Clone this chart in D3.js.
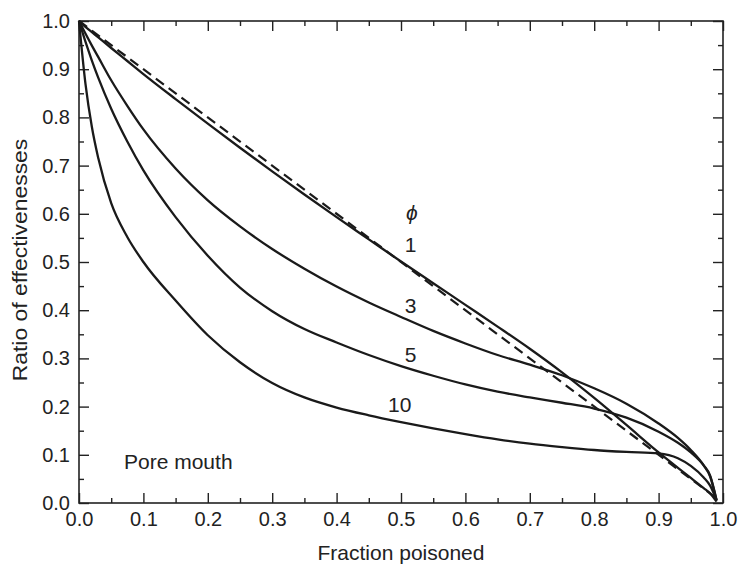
<!DOCTYPE html>
<html>
<head>
<meta charset="utf-8">
<script src="https://cdn.jsdelivr.net/npm/d3@7"></script>
<style>
  body { margin: 0; background: #fff; }
  svg { font-family: "Liberation Sans", Arial, sans-serif; }
  .axis text { font-size: 20px; fill: #222; }
  .axis line { stroke: #222; stroke-width: 1.4; }
  .axis path { display: none; }
</style>
</head>
<body>
<div id="chart"></div>
<script>
// fraction poisoned (shared x samples)
const xs = [0, 0.01, 0.02, 0.03, 0.05, 0.075, 0.1, 0.15, 0.2, 0.25, 0.3, 0.35, 0.4, 0.45,
  0.5, 0.55, 0.6, 0.65, 0.7, 0.75, 0.8, 0.85, 0.9, 0.93, 0.95, 0.97, 0.98, 0.99];

// ratio of effectivenesses, one list per Thiele modulus
const phi1 = [1, 0.988, 0.977, 0.966, 0.944, 0.917, 0.89, 0.838, 0.787, 0.737, 0.688, 0.64, 0.593, 0.547,
  0.501, 0.456, 0.411, 0.366, 0.32, 0.271, 0.218, 0.162, 0.105, 0.073, 0.052, 0.031, 0.02, 0.003];
const phi3 = [1, 0.974, 0.949, 0.925, 0.877, 0.824, 0.775, 0.694, 0.628, 0.574, 0.527, 0.486, 0.449, 0.416,
  0.386, 0.357, 0.331, 0.307, 0.287, 0.265, 0.238, 0.206, 0.165, 0.135, 0.11, 0.078, 0.055, 0.005];
const phi5 = [1, 0.957, 0.918, 0.882, 0.818, 0.75, 0.69, 0.593, 0.513, 0.447, 0.398, 0.361, 0.333, 0.307,
  0.284, 0.264, 0.246, 0.231, 0.219, 0.208, 0.196, 0.177, 0.148, 0.125, 0.105, 0.078, 0.057, 0.006];
const phi10 = [1, 0.87, 0.78, 0.715, 0.622, 0.552, 0.5, 0.42, 0.348, 0.292, 0.249, 0.219, 0.198, 0.182,
  0.168, 0.155, 0.143, 0.132, 0.123, 0.116, 0.11, 0.106, 0.103, 0.093, 0.077, 0.053, 0.036, 0.006];

// dashed reference line (no diffusion limitation)
const dashX = [0, 0.99];
const dashY = [1, 0.01];

const majorTicks = [0, 0.1, 0.2, 0.3, 0.4, 0.5, 0.6, 0.7, 0.8, 0.9, 1.0];
const minorTicks = [0.05, 0.15, 0.25, 0.35, 0.45, 0.55, 0.65, 0.75, 0.85, 0.95];

const curveLabels = [
  { text: '\u03d5', x: 0.517, y: 0.587, italic: true },
  { text: '1', x: 0.515, y: 0.52 },
  { text: '3', x: 0.515, y: 0.394 },
  { text: '5', x: 0.515, y: 0.292 },
  { text: '10', x: 0.498, y: 0.189 },
];

const W = 739, H = 564;
const svg = d3.select('#chart').append('svg')
  .attr('width', W).attr('height', H);

const x = d3.scaleLinear().domain([0, 1]).range([79, 723]);
const y = d3.scaleLinear().domain([0, 1]).range([503, 21]);
const fmt = d3.format('.1f');

// axes: ticks point inward on all four sides
function addAxis(axisFn, scale, tx, ty, vals, size, labels, pad) {
  svg.append('g').attr('class', 'axis')
    .attr('transform', `translate(${tx},${ty})`)
    .call(axisFn(scale).tickValues(vals).tickSize(-size)
      .tickPadding(pad || 0)
      .tickFormat(labels ? fmt : ''));
}
addAxis(d3.axisBottom, x, 0, 503, majorTicks, 10, true, 9);
addAxis(d3.axisBottom, x, 0, 503, minorTicks, 5, false);
addAxis(d3.axisTop, x, 0, 21, majorTicks, 10, false);
addAxis(d3.axisTop, x, 0, 21, minorTicks, 5, false);
addAxis(d3.axisLeft, y, 79, 0, majorTicks, 10, true, 9);
addAxis(d3.axisLeft, y, 79, 0, minorTicks, 5, false);
addAxis(d3.axisRight, y, 723, 0, majorTicks, 10, false);
addAxis(d3.axisRight, y, 723, 0, minorTicks, 5, false);

svg.append('rect')
  .attr('x', x(0)).attr('y', y(1))
  .attr('width', x(1) - x(0)).attr('height', y(0) - y(1))
  .attr('fill', 'none').attr('stroke', '#222').attr('stroke-width', 1.6);

const line = d3.line()
  .x(d => x(d[0])).y(d => y(d[1]))
  .curve(d3.curveMonotoneX);

[phi1, phi3, phi5, phi10].forEach(vals => {
  svg.append('path')
    .datum(xs.map((v, i) => [v, vals[i]]))
    .attr('d', line)
    .attr('fill', 'none')
    .attr('stroke', '#1a1a1a')
    .attr('stroke-width', 2.3);
});

svg.append('path')
  .datum(dashX.map((v, i) => [v, dashY[i]]))
  .attr('d', d3.line().x(d => x(d[0])).y(d => y(d[1])))
  .attr('fill', 'none')
  .attr('stroke', '#1a1a1a')
  .attr('stroke-width', 2.2)
  .attr('stroke-dasharray', '10,6');

svg.selectAll('text.clabel')
  .data(curveLabels)
  .join('text')
  .attr('class', 'clabel')
  .attr('x', d => x(d.x)).attr('y', d => y(d.y))
  .attr('text-anchor', 'middle')
  .attr('font-size', '21px')
  .attr('font-style', d => d.italic ? 'italic' : 'normal')
  .attr('fill', '#222')
  .text(d => d.text);

svg.append('text')
  .attr('x', 124).attr('y', 469)
  .attr('font-size', '21px').attr('fill', '#222')
  .text('Pore mouth');

svg.append('text')
  .attr('x', x(0.5)).attr('y', 560)
  .attr('text-anchor', 'middle')
  .attr('font-size', '21px').attr('fill', '#222')
  .text('Fraction poisoned');

// the y title is a bit longer in the original, stretch along its length
svg.append('text')
  .attr('transform', `translate(27,260) rotate(-90) scale(1.09,1)`)
  .attr('text-anchor', 'middle')
  .attr('font-size', '21px').attr('fill', '#222')
  .text('Ratio of effectivenesses');
</script>
</body>
</html>
